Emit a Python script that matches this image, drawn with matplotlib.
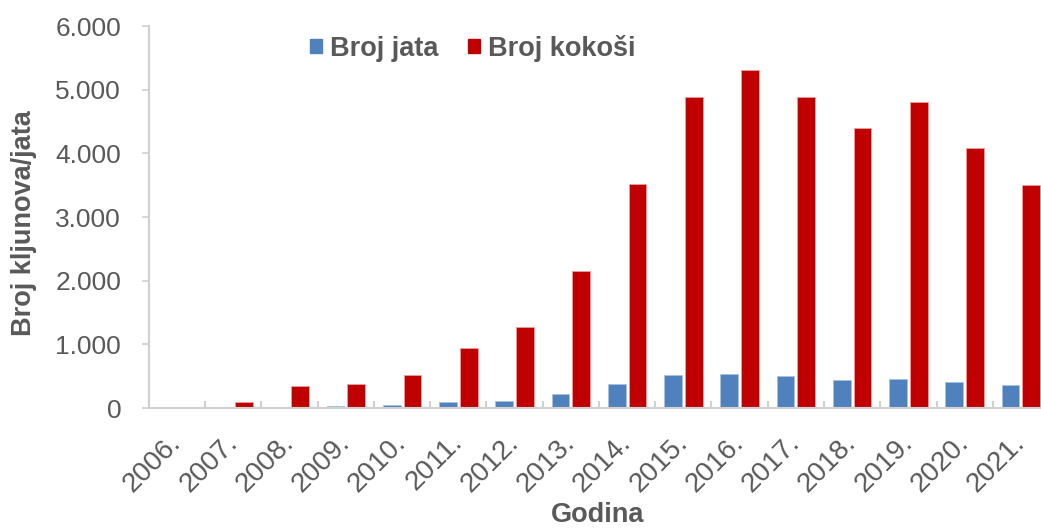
import numpy as np
import matplotlib.pyplot as plt
from matplotlib.ticker import FuncFormatter
from matplotlib.patches import Patch

years = ['2006.', '2007.', '2008.', '2009.', '2010.', '2011.', '2012.', '2013.',
         '2014.', '2015.', '2016.', '2017.', '2018.', '2019.', '2020.', '2021.']
broj_jata = [0, 0, 0, 30, 55, 95, 115, 220, 375, 520, 535, 500, 435, 450, 415, 355]
broj_kokosi = [0, 90, 350, 380, 520, 950, 1270, 2150, 3520, 4890, 5310, 4890,
               4400, 4800, 4090, 3500]

blue = '#4f81bd'
red = '#c00000'
grey = '#595959'

plt.rcParams['font.family'] = ['Liberation Sans', 'DejaVu Sans']

fig = plt.figure(figsize=(10.41, 5.29), dpi=100)
# the plot area runs a little past the right edge, as in the original
ax = fig.add_axes([0.1431, 0.2287, 0.8646, 0.7221])

x = np.arange(len(years))
w = 0.315
ax.bar(x - 0.185, broj_jata, w, color=blue, edgecolor='#a9c0de', linewidth=0.6)
ax.bar(x + 0.185, broj_kokosi, w, color=red, edgecolor='#e8a0a0', linewidth=0.6)

ax.set_xlim(-0.5, len(years) - 0.5)
ax.set_ylim(0, 6000)
ax.set_yticks(np.arange(0, 6001, 1000))
ax.yaxis.set_major_formatter(FuncFormatter(lambda v, p: '{:,.0f}'.format(v).replace(',', '.')))

ax.set_xticks(x)
ax.set_xticklabels(years, rotation=45, ha='right', va='center', rotation_mode='anchor')
ax.set_xticks(np.arange(0.5, len(years) - 1, 1), minor=True)
ax.tick_params(axis='x', which='major', length=0, labelsize=20, colors=grey, pad=22)
ax.tick_params(axis='x', which='minor', length=5, direction='in', color='#d0d0d0', width=1.5)
ax.tick_params(axis='y', length=5, direction='out', color='#d0d0d0', width=1.2,
               labelsize=19, labelcolor=grey, pad=15)

for s in ['top', 'right']:
    ax.spines[s].set_visible(False)
for s in ['left', 'bottom']:
    ax.spines[s].set_color('#d0d0d0')
    ax.spines[s].set_linewidth(1.5)

ax.set_ylabel('Broj kljunova/jata', fontsize=19.5, fontweight='bold', color=grey, va='center')
ax.yaxis.set_label_coords(-0.139, 0.484)
ax.set_xlabel('Godina', fontsize=19.5, fontweight='bold', color=grey, va='baseline')
ax.xaxis.set_label_coords(0.498, -0.298)

handles = [Patch(color=blue), Patch(color=red)]
fig.legend(handles, ['Broj jata', 'Broj kokoši'], loc='center left',
           bbox_to_anchor=(0.298, 0.909), ncol=2, frameon=False,
           borderpad=0, borderaxespad=0,
           prop={'size': 19.5, 'weight': 'bold'}, labelcolor=grey,
           handlelength=0.43, handleheight=0.43, handletextpad=0.3, columnspacing=1.1)

fig.savefig('out.png', dpi=100)
